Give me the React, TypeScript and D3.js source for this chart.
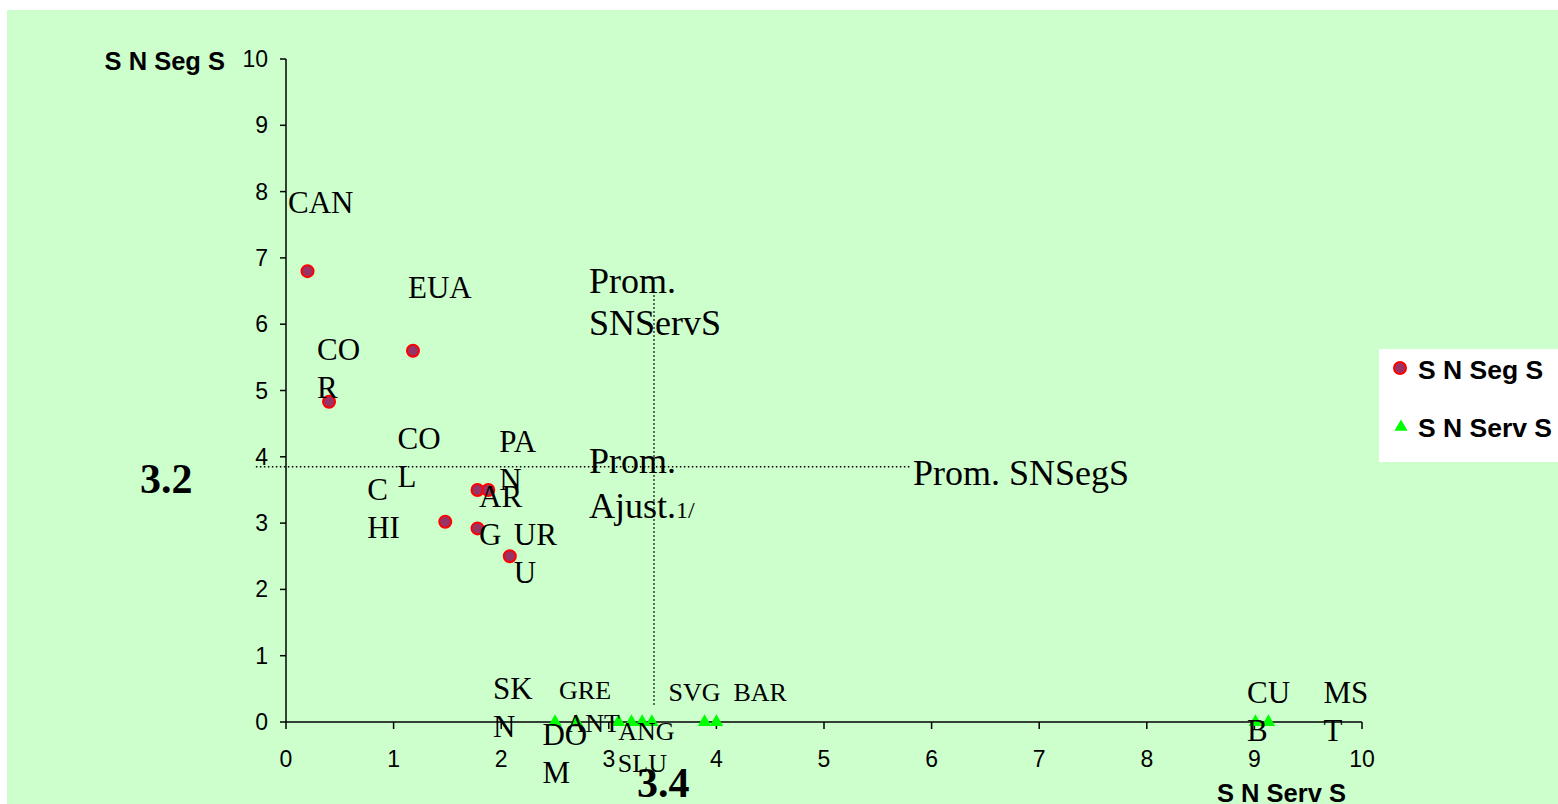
import React from 'react';
import * as d3 from 'd3';

// ---------- data ----------
const xTickValues = [0, 1, 2, 3, 4, 5, 6, 7, 8, 9, 10];
const yTickValues = [0, 1, 2, 3, 4, 5, 6, 7, 8, 9, 10];

const segNames = ['CAN', 'EUA', 'COR', 'COL', 'PAN', 'CHI', 'ARG', 'URU'];
const segX = [0.2, 1.18, 0.4, 1.78, 1.88, 1.48, 1.78, 2.08];
const segY = [6.8, 5.6, 4.83, 3.5, 3.5, 3.02, 2.92, 2.5];

const servNames = ['SKN', 'GRE', 'DOM', 'ANT', 'ANG', 'SLU', 'SVG', 'BAR', 'CUB', 'MST'];
const servX = [2.5, 2.7, 3.09, 3.21, 3.31, 3.4, 3.89, 4.0, 9.01, 9.13];
const servY = [0, 0, 0, 0, 0, 0, 0, 0, 0, 0];

const promSegS = 3.85; // horizontal reference line value
const promServS = 3.42; // vertical reference line value
const hLineExtent = [-0.28, 5.8];
const vLineExtent = [0.26, 6.44];

const seriesNames = ['S N Seg S', 'S N Serv S'];
const yTitle = 'S N Seg S';
const xTitle = 'S N Serv S';

// ---------- label layout (pixel offsets from each marker) ----------
const segLabelLayout: Record<string, { lines: string[]; dx: number; dy: number; size: number }> = {
  CAN: { lines: ['CAN'], dx: -19.5, dy: -58, size: 31 },
  EUA: { lines: ['EUA'], dx: -5, dy: -53, size: 31 },
  COR: { lines: ['CO', 'R'], dx: -12, dy: -42, size: 31 },
  COL: { lines: ['CO', 'L'], dx: -80, dy: -41, size: 31 },
  PAN: { lines: ['PA', 'N'], dx: 11, dy: -38, size: 31 },
  CHI: { lines: ['C', 'HI'], dx: -78, dy: -22, size: 31 },
  ARG: { lines: ['AR', 'G'], dx: 1.5, dy: -21, size: 31 },
  URU: { lines: ['UR', 'U'], dx: 4, dy: -11, size: 31 },
};
const servLabelLayout: Record<string, { lines: string[]; dx: number; dy: number; size: number }> = {
  SKN: { lines: ['SK', 'N'], dx: -62, dy: -23, size: 31 },
  GRE: { lines: ['GRE'], dx: -17.5, dy: -23, size: 26 },
  DOM: { lines: ['DO', 'M'], dx: -76, dy: 23, size: 31 },
  ANT: { lines: ['ANT'], dx: -65, dy: 10, size: 26 },
  ANG: { lines: ['ANG'], dx: -24, dy: 18, size: 26 },
  SLU: { lines: ['SLU'], dx: -34, dy: 50, size: 26 },
  SVG: { lines: ['SVG'], dx: -36, dy: -21, size: 26 },
  BAR: { lines: ['BAR'], dx: 17, dy: -21, size: 26 },
  CUB: { lines: ['CU', 'B'], dx: -8.5, dy: -19, size: 31 },
  MST: { lines: ['MS', 'T'], dx: 55, dy: -19, size: 31 },
};

const W = 1558;
const H = 804;
const serif = '"Liberation Serif", "Times New Roman", serif';
const sans = '"Liberation Sans", Arial, sans-serif';

export default function App() {
  const x = d3.scaleLinear().domain([0, 10]).range([286, 1362]);
  const y = d3.scaleLinear().domain([0, 10]).range([722, 59]);
  const tri = d3.symbol(d3.symbolTriangle, 80)() as string;
  const triLegend = d3.symbol(d3.symbolTriangle, 75)() as string;
  const lineH = 38;

  const renderLabel = (
    key: string,
    px: number,
    py: number,
    lay: { lines: string[]; dx: number; dy: number; size: number }
  ) => (
    <text key={key} x={px + lay.dx} y={py + lay.dy} fontFamily={serif} fontSize={lay.size} fill="#000">
      {lay.lines.map((l, i) => (
        <tspan key={i} x={px + lay.dx} dy={i === 0 ? 0 : lineH}>
          {l}
        </tspan>
      ))}
    </text>
  );

  return (
    <svg width={W} height={H} style={{ position: 'absolute', left: 0, top: 0 }}>
      <rect x={0} y={0} width={W} height={H} fill="#ffffff" />
      <rect x={7} y={10} width={W - 7} height={H - 10} fill="#CCFFCC" />

      {/* axes */}
      <line x1={x(0)} x2={x(0)} y1={y(0)} y2={y(10)} stroke="#000" strokeWidth={1.5} />
      <line x1={x(0)} x2={x(10)} y1={y(0)} y2={y(0)} stroke="#000" strokeWidth={1.5} />
      {yTickValues.map((t) => (
        <g key={'yt' + t}>
          <line x1={x(0) - 6} x2={x(0)} y1={y(t)} y2={y(t)} stroke="#000" strokeWidth={1.5} />
          <text x={268} y={y(t)} dy="0.35em" textAnchor="end" fontFamily={sans} fontSize={23} fill="#000">
            {t}
          </text>
        </g>
      ))}
      {xTickValues.map((t) => (
        <g key={'xt' + t}>
          <line x1={x(t)} x2={x(t)} y1={y(0)} y2={y(0) + 7} stroke="#000" strokeWidth={1.5} />
          <text x={x(t)} y={767} textAnchor="middle" fontFamily={sans} fontSize={23} fill="#000">
            {t}
          </text>
        </g>
      ))}
      <text x={225} y={70} textAnchor="end" fontFamily={sans} fontWeight="bold" fontSize={25.5} fill="#000">
        {yTitle}
      </text>
      <text x={1217} y={802} fontFamily={sans} fontWeight="bold" fontSize={25.5} fill="#000">
        {xTitle}
      </text>

      {/* reference lines */}
      <line
        x1={x(hLineExtent[0])}
        x2={x(hLineExtent[1])}
        y1={y(promSegS)}
        y2={y(promSegS)}
        stroke="#000"
        strokeWidth={1.5}
        strokeDasharray="1.5 2.5"
      />
      <line
        x1={x(promServS)}
        x2={x(promServS)}
        y1={y(vLineExtent[0])}
        y2={y(vLineExtent[1])}
        stroke="#000"
        strokeWidth={1.5}
        strokeDasharray="1.5 2.5"
      />

      {/* annotations */}
      <text x={589} y={293} fontFamily={serif} fontSize={36} fill="#000">
        <tspan x={589}>Prom.</tspan>
        <tspan x={589} dy={42}>SNServS</tspan>
      </text>
      <text x={589} y={473} fontFamily={serif} fontSize={36} fill="#000">
        <tspan x={589}>Prom.</tspan>
        <tspan x={589} dy={45}>Ajust.</tspan>
        <tspan fontSize={24}>1/</tspan>
      </text>
      <text x={913} y={485} fontFamily={serif} fontSize={36} fill="#000">
        Prom. SNSegS
      </text>
      <text x={140} y={493} fontFamily={serif} fontWeight="bold" fontSize={42} fill="#000">
        3.2
      </text>
      <text x={637} y={797} fontFamily={serif} fontWeight="bold" fontSize={42} fill="#000">
        3.4
      </text>

      {/* series markers */}
      {servNames.map((n, i) => (
        <path key={'sv' + n} d={tri} transform={`translate(${x(servX[i])},${y(servY[i])})`} fill="#00FF00" />
      ))}
      {segNames.map((n, i) => (
        <circle key={'sg' + n} cx={x(segX[i])} cy={y(segY[i])} r={6} fill="#993366" stroke="#FF0000" strokeWidth={2} />
      ))}

      {/* data labels */}
      {segNames.map((n, i) => renderLabel('lsg' + n, x(segX[i]), y(segY[i]), segLabelLayout[n]))}
      {servNames.map((n, i) => renderLabel('lsv' + n, x(servX[i]), y(servY[i]), servLabelLayout[n]))}

      {/* legend */}
      <rect x={1379} y={349} width={W - 1379} height={113} fill="#ffffff" />
      <circle cx={1400} cy={368} r={6} fill="#993366" stroke="#FF0000" strokeWidth={2} />
      <text x={1418} y={379} fontFamily={sans} fontWeight="bold" fontSize={26.5} fill="#000">
        {seriesNames[0]}
      </text>
      <path d={triLegend} transform="translate(1401,427)" fill="#00FF00" />
      <text x={1418} y={437} fontFamily={sans} fontWeight="bold" fontSize={26.5} fill="#000">
        {seriesNames[1]}
      </text>
    </svg>
  );
}
